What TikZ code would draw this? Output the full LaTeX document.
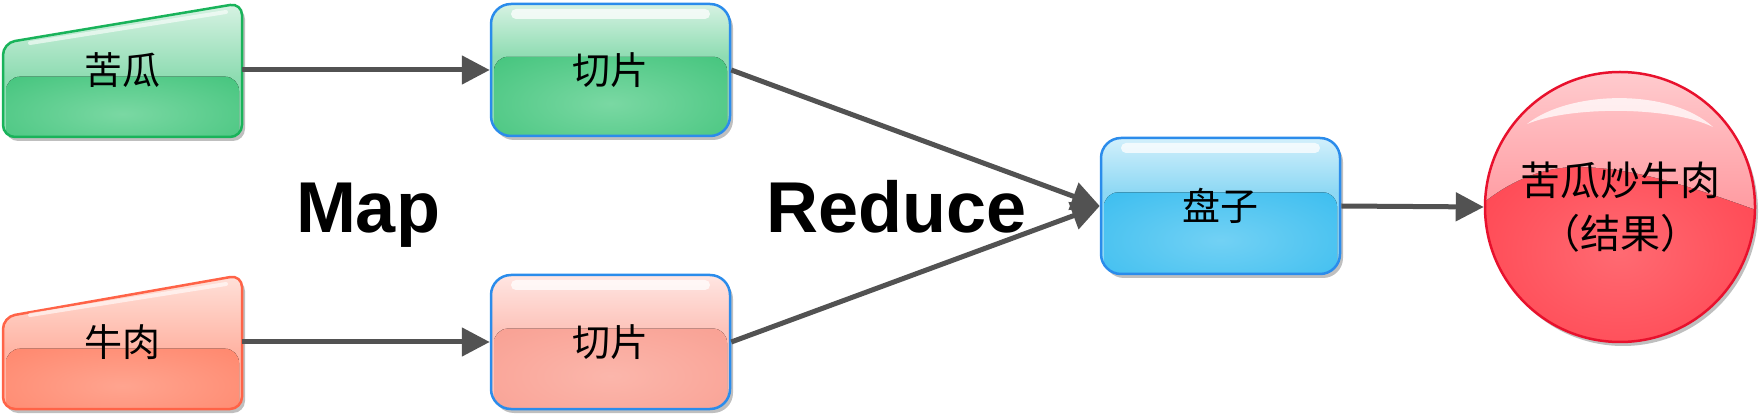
\documentclass[tikz,border=0pt]{standalone}
\usepackage{fontspec}
\newfontfamily\cjk{Noto Sans CJK SC}
\newfontfamily\lsans{Liberation Sans}
\usetikzlibrary{arrows.meta,calc,shadows}
\definecolor{arrgray}{HTML}{525252}
\definecolor{gTop}{HTML}{DDF4E7}\definecolor{gMid}{HTML}{8EDCB2}\definecolor{gCtr}{HTML}{7AD8A3}\definecolor{gEdge}{HTML}{30BD6F}\definecolor{gBorder}{HTML}{19B35A}
\definecolor{bTop}{HTML}{D8F2FC}\definecolor{bMid}{HTML}{8DD8F4}\definecolor{bCtr}{HTML}{72D1F4}\definecolor{bEdge}{HTML}{27B6EE}
\definecolor{sTop}{HTML}{FFE9E6}\definecolor{sMid}{HTML}{FDC4BB}\definecolor{sCtr}{HTML}{FBB6AB}\definecolor{sEdge}{HTML}{F8988A}
\definecolor{oTop}{HTML}{FFE4DD}\definecolor{oMid}{HTML}{FFB5A5}\definecolor{oCtr}{HTML}{FFA48F}\definecolor{oEdge}{HTML}{FF7C60}\definecolor{oBorder}{HTML}{FF6347}
\definecolor{blueB}{HTML}{2B8CEB}
\definecolor{cTop}{HTML}{FFCDD0}\definecolor{cMid}{HTML}{FF9AA0}\definecolor{cCtr}{HTML}{FF6A72}\definecolor{cEdge}{HTML}{FF2F3D}\definecolor{cBorder}{HTML}{E8112D}
\colorlet{rin}{white}\colorlet{rout}{black}
\pgfdeclareradialshading[rin,rout]{wrad}{\pgfpoint{0bp}{0bp}}{color(0bp)=(rin); color(50bp)=(rout)}
\newcommand\myhilite{\fill[white,opacity=.75,draw=none,sharp corners,rounded corners=5pt] ($(gNW)+(20,5)$) rectangle ($(gNW-|gSE)+(-20,15)$);}
\newcommand\cp[2]{($(cc)+(#1,#2)$)}
\begin{document}
\begin{tikzpicture}[x=1pt,y=-1pt,
  arr/.style={draw=arrgray, line width=5pt, -{Triangle[length=28pt,width=28pt]}},
  cjktext/.style={font=\cjk\fontsize{38}{46}\selectfont, text=black},
  shad/.style={drop shadow={shadow xshift=3pt, shadow yshift=-4pt, opacity=.25, fill=black}},
  glossy/.style n args={7}{draw=#5, line width=2.5pt,
    path picture={
      \path (path picture bounding box.north west) coordinate (gNW)
            (path picture bounding box.south east) coordinate (gSE);
      \fill[#2,draw=none,sharp corners] ($(gNW)+(-5,-5)$) rectangle ($(gSE)+(5,5)$);
      \fill[top color=#1, bottom color=#2, draw=none, sharp corners] ($(gNW)+(-5,-5)$) rectangle ($(gNW-|gSE)!#6!(gSE)+(5,0)$);
      \colorlet{rin}{#3}\colorlet{rout}{#4}
      \fill[shading=wrad, draw=none, sharp corners, rounded corners=14pt] ($(gNW)!#6!(gNW|-gSE)+(3,0)$) rectangle ($(gSE)+(-3,14)$);
      #7
    }},
  rbox/.style={rectangle, rounded corners=20pt, minimum width=239pt, inner sep=0pt, cjktext, shad}
]
\useasboundingbox (0,0) rectangle (1761,419);

% trapezoid 1
\path[glossy={gTop}{gMid}{gCtr}{gEdge}{gBorder}{0.55}{}, rounded corners=12pt, shad]
  (3,137) -- (3,43) -- (242,3) -- (242,137) -- cycle;
\draw[white, opacity=.6, line width=4pt, line cap=round] (30,43) -- (226,12);
\node[cjktext, minimum width=239pt, minimum height=134pt, inner sep=0pt] (kg) at (122.5,70) {苦瓜};

% trapezoid 2
\path[glossy={oTop}{oMid}{oCtr}{oEdge}{oBorder}{0.55}{}, rounded corners=12pt, shad]
  (3,409) -- (3,317) -- (242,275) -- (242,409) -- cycle;
\draw[white, opacity=.6, line width=4pt, line cap=round] (30,315) -- (226,284);
\node[cjktext, minimum width=239pt, minimum height=134pt, inner sep=0pt] (nr) at (122.5,342) {牛肉};

% rect nodes
\node[rbox, minimum height=132pt, glossy={gTop}{gMid}{gCtr}{gEdge}{blueB}{0.40}{\myhilite}] (qp1) at (610.5,70) {切片};
\node[rbox, minimum height=134pt, glossy={sTop}{sMid}{sCtr}{sEdge}{blueB}{0.40}{\myhilite}] (qp2) at (610.5,342) {切片};
\node[rbox, minimum height=136pt, glossy={bTop}{bMid}{bCtr}{bEdge}{blueB}{0.40}{\myhilite}] (pz) at (1220.5,206) {盘子};

% circle
\node[circle, minimum size=270pt, inner sep=0pt, draw=cBorder, line width=2.5pt, shad,
  font=\cjk\fontsize{40}{53}\selectfont, align=center,
  path picture={
    \path (path picture bounding box.center) coordinate (cc);
    \colorlet{rin}{cCtr}\colorlet{rout}{cEdge}
    \fill[shading=wrad, draw=none] \cp{-142}{-60} rectangle \cp{142}{150};
    \fill[top color=cTop, bottom color=cMid, draw=none] \cp{-142}{-141} -- \cp{142}{-141} -- \cp{142}{5}
      .. controls \cp{80}{-17} and \cp{20}{-39} .. \cp{-40}{-40}
      .. controls \cp{-75}{-41} and \cp{-110}{-27} .. \cp{-142}{0} -- cycle;
    \fill[white, opacity=.75, draw=none] \cp{-93}{-83} .. controls \cp{-50}{-117} and \cp{50}{-119} .. \cp{93}{-80}
      .. controls \cp{50}{-101} and \cp{-50}{-101} .. \cp{-93}{-83} -- cycle;
  }] (res) at (1620,207) {苦瓜炒牛肉\\（结果）};

% labels
\node[font=\lsans\bfseries\fontsize{72}{80}\selectfont, anchor=base, inner sep=0pt] (map) at (368,233) {Map};
\node[font=\lsans\bfseries\fontsize{72}{80}\selectfont, anchor=base, inner sep=0pt] (red) at (897,233) {Reduce};

% arrows
\draw[arr] (kg.east) -- (qp1.west);
\draw[arr] (nr.east) -- (qp2.west);
\draw[arr] (qp1.east) -- (pz.west);
\draw[arr] (qp2.east) -- (pz.west);
\draw[arr] (pz.east) -- (res.west);
\end{tikzpicture}
\end{document}
